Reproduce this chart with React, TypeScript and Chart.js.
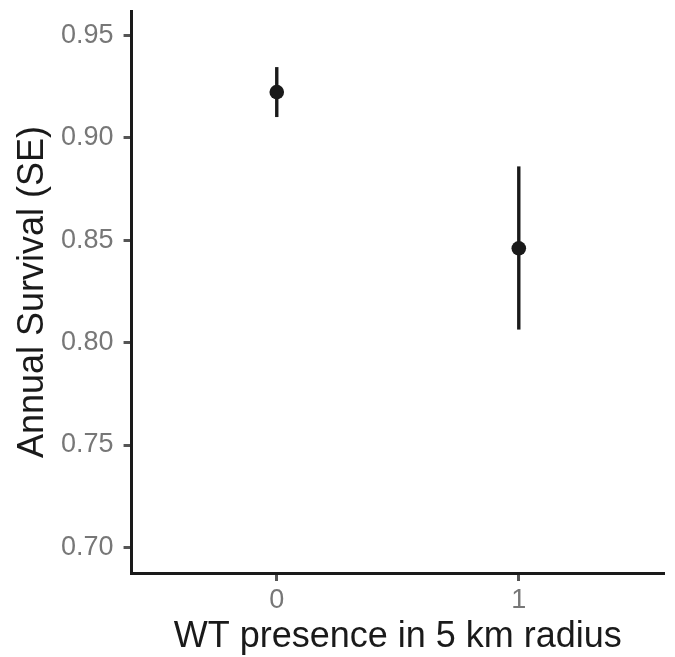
import React, { useEffect, useRef } from "react";
import { Chart, registerables } from "chart.js";

Chart.register(...registerables);

const categories = ["0", "1"];
const xPositions = [0, 1];
const survival = [0.9224, 0.8461];
const lowerSE = [0.9102, 0.8064];
const upperSE = [0.9346, 0.8861];
const yTicks = [0.7, 0.75, 0.8, 0.85, 0.9, 0.95];

const FONT = "'Liberation Sans', Arial, Helvetica, sans-serif";

const errorBarPlugin = {
  id: "errorBars",
  beforeDatasetsDraw(chart: any) {
    const { ctx, scales } = chart;
    const xs = scales.x;
    const ys = scales.y;
    ctx.save();
    ctx.strokeStyle = "#1a1a1a";
    ctx.lineWidth = 3.4;
    ctx.lineCap = "butt";
    for (let i = 0; i < xPositions.length; i++) {
      const px = xs.getPixelForValue(xPositions[i]);
      ctx.beginPath();
      ctx.moveTo(px, ys.getPixelForValue(lowerSE[i]));
      ctx.lineTo(px, ys.getPixelForValue(upperSE[i]));
      ctx.stroke();
    }
    ctx.restore();
  },
};

export default function App() {
  const ref = useRef<HTMLCanvasElement>(null);
  useEffect(() => {
    if (!ref.current) return;
    const chart = new Chart(ref.current, {
      type: "scatter",
      data: {
        datasets: [
          {
            data: xPositions.map((x, i) => ({ x, y: survival[i] })),
            backgroundColor: "#1a1a1a",
            borderColor: "#1a1a1a",
            pointRadius: 7.3,
            pointBorderWidth: 0,
          },
        ],
      },
      plugins: [errorBarPlugin],
      options: {
        animation: false,
        responsive: false,
        maintainAspectRatio: false,
        layout: { padding: { top: 11, right: 11, bottom: -2, left: 0 } },
        plugins: { legend: { display: false }, tooltip: { enabled: false } },
        scales: {
          x: {
            type: "linear",
            min: -0.6,
            max: 1.6,
            afterBuildTicks: (axis: any) => {
              axis.ticks = xPositions.map((v) => ({ value: v }));
            },
            afterFit: (axis: any) => {
              axis.paddingLeft = 0;
              axis.paddingRight = 0;
            },
            ticks: {
              callback: (v: any) => {
                const idx = xPositions.indexOf(Number(v));
                return idx >= 0 ? categories[idx] : "";
              },
              color: "#777777",
              font: { family: FONT, size: 27 },
              padding: 3,
              maxRotation: 0,
            },
            grid: {
              drawOnChartArea: false,
              drawTicks: true,
              tickLength: 8,
              tickColor: "#555555",
              tickWidth: 3,
            },
            border: { color: "#1a1a1a", width: 3 },
            title: {
              display: true,
              text: "WT presence in 5 km radius",
              color: "#1a1a1a",
              font: { family: FONT, size: 36 },
              padding: { top: -3.6, bottom: 0 },
            },
          },
          y: {
            type: "linear",
            min: 0.6875,
            max: 0.962,
            afterBuildTicks: (axis: any) => {
              axis.ticks = yTicks.map((v) => ({ value: v }));
            },
            afterFit: (axis: any) => {
              axis.paddingTop = 0;
              axis.paddingBottom = 0;
            },
            ticks: {
              callback: (v: any) => Number(v).toFixed(2),
              color: "#777777",
              font: { family: FONT, size: 27 },
              padding: 10,
            },
            grid: {
              drawOnChartArea: false,
              drawTicks: true,
              tickLength: 8,
              tickColor: "#555555",
              tickWidth: 3,
            },
            border: { color: "#1a1a1a", width: 3 },
            title: {
              display: true,
              text: "Annual Survival (SE)",
              color: "#1a1a1a",
              font: { family: FONT, size: 36 },
              padding: { top: 11.4, bottom: -3.6 },
            },
          },
        },
      },
    });
    return () => chart.destroy();
  }, []);
  return (
    <div style={{ position: "absolute", left: 0, top: 0, width: 675, height: 657, background: "#fff" }}>
      <canvas ref={ref} width={675} height={657} style={{ width: 675, height: 657 }} />
    </div>
  );
}
